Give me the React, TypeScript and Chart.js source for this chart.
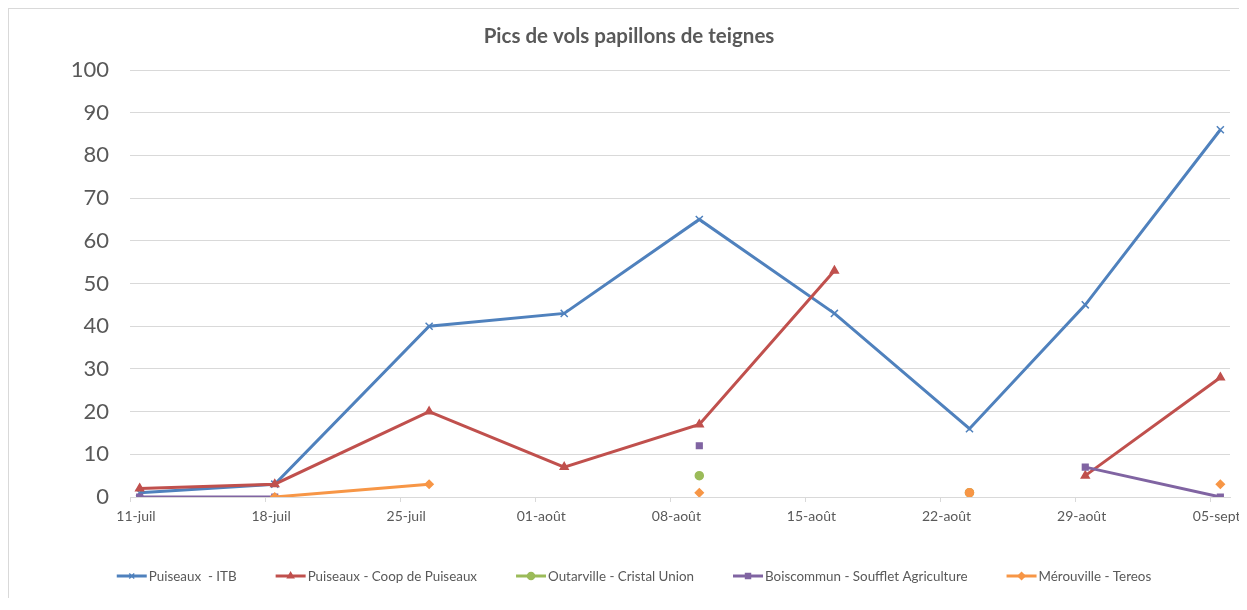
import React, { useEffect, useRef } from 'react';
import { Chart, registerables } from 'chart.js';
import { drawPoint } from 'chart.js/helpers';

Chart.register(...registerables);

const TITLE = 'Pics de vols papillons de teignes';

// Observation dates (day axis starts at 11 July)
const AXIS_START = '2019-07-11';
const AXIS_DAYS = 57;
const sampleDates = [
  '2019-07-11', '2019-07-18', '2019-07-26', '2019-08-02', '2019-08-09',
  '2019-08-16', '2019-08-23', '2019-08-29', '2019-09-05',
];

// Weekly axis labels
const tickLabels = [
  '11-juil', '18-juil', '25-juil', '01-août', '08-août',
  '15-août', '22-août', '29-août', '05-sept',
];

const seriesNames = [
  'Puiseaux  - ITB',
  'Puiseaux - Coop de Puiseaux',
  'Outarville - Cristal Union',
  'Boiscommun - Soufflet Agriculture',
  'Mérouville - Tereos',
];

const puiseauxItb = [1, 3, 40, 43, 65, 43, 16, 45, 86];
const puiseauxCoop = [2, 3, 20, 7, 17, 53, null, 5, 28];
const outarville = [null, null, null, null, 5, null, 1, null, null];
const boiscommun = [0, 0, null, null, 12, null, null, 7, 0];
const merouville = [null, 0, 3, null, 1, null, 1, null, 3];

const yTicksMax = 100;
const yStep = 10;

const TEXT = '#595959';
const GRID = '#d9d9d9';
const FONT = 'Lato, "Open Sans", sans-serif';

const dayOf = (d: string) => (Date.parse(d) - Date.parse(AXIS_START)) / 86400000;
const toPoints = (vals: (number | null)[]) =>
  sampleDates.map((d, i) => ({ x: dayOf(d) + 0.5, y: vals[i] }));

const titleLegendPlugin = {
  id: 'titleLegend',
  afterDraw(chart: any) {
    const ctx = chart.ctx;
    ctx.save();
    ctx.fillStyle = TEXT;
    ctx.font = `bold 20.5px ${FONT}`;
    ctx.textAlign = 'center';
    ctx.textBaseline = 'middle';
    ctx.fillText(TITLE, 620, 27);

    ctx.font = `13.4px ${FONT}`;
    const lineLen = 30;
    const textGap = 2;
    const itemGap = 39;
    const widths = chart.data.datasets.map((ds: any) => ctx.measureText(ds.label).width);
    const total = widths.reduce((a: number, w: number) => a + lineLen + textGap + w, 0) + itemGap * (widths.length - 1);
    let x = 625 - total / 2;
    const y = 567;
    chart.data.datasets.forEach((ds: any, i: number) => {
      ctx.strokeStyle = ds.borderColor;
      ctx.lineWidth = 3;
      ctx.beginPath();
      ctx.moveTo(x, y);
      ctx.lineTo(x + lineLen, y);
      ctx.stroke();
      const ps = Array.isArray(ds.pointStyle) ? ds.pointStyle[0] : ds.pointStyle;
      ctx.fillStyle = ds.pointBackgroundColor;
      ctx.strokeStyle = ds.pointBorderColor;
      ctx.lineWidth = ds.pointBorderWidth;
      drawPoint(ctx, { pointStyle: ps, rotation: 0, radius: 3.5, borderWidth: ds.pointBorderWidth }, x + lineLen / 2, y);
      ctx.fillStyle = TEXT;
      ctx.textAlign = 'left';
      ctx.fillText(ds.label, x + lineLen + textGap, y + 0.5);
      x += lineLen + textGap + widths[i] + itemGap;
    });
    ctx.restore();
  },
};

function makeDataset(label: string, vals: (number | null)[], color: string, style: any, radius: number, order: number) {
  return {
    label,
    data: toPoints(vals),
    borderColor: color,
    backgroundColor: color,
    pointBackgroundColor: color,
    pointBorderColor: color,
    pointBorderWidth: 1.5,
    borderWidth: 3,
    pointStyle: style,
    pointRadius: radius,
    tension: 0,
    spanGaps: false,
    order,
  };
}

export default function App() {
  const ref = useRef<HTMLCanvasElement>(null);
  useEffect(() => {
    if (!ref.current) return;
    const orangeStyles = merouville.map((_, i) => (sampleDates[i] === '2019-08-23' ? 'circle' : 'rectRot'));
    const chart = new Chart(ref.current, {
      type: 'line',
      data: {
        datasets: [
          makeDataset(seriesNames[0], puiseauxItb, '#4f81bd', 'crossRot', 5, 4),
          makeDataset(seriesNames[1], puiseauxCoop, '#c0504d', 'triangle', 4.5, 3),
          makeDataset(seriesNames[2], outarville, '#9bbb59', 'circle', 4, 2),
          makeDataset(seriesNames[3], boiscommun, '#8064a2', 'rect', 4, 1),
          makeDataset(seriesNames[4], merouville, '#f79646', orangeStyles, 4, 0),
        ] as any,
      },
      options: {
        animation: false,
        responsive: false,
        layout: { padding: { top: 61, right: 17, bottom: 61, left: 0 } },
        plugins: {
          legend: { display: false },
          title: { display: false },
          tooltip: { enabled: false },
        },
        scales: {
          x: {
            type: 'linear',
            min: 0,
            max: AXIS_DAYS,
            afterBuildTicks: (scale: any) => {
              scale.ticks = tickLabels.map((_, i) => ({ value: i * 7 }));
            },
            afterFit: (scale: any) => {
              scale.height = 40;
              scale.paddingLeft = 0;
              scale.paddingRight = 0;
            },
            grid: {
              drawOnChartArea: false,
              drawTicks: true,
              tickLength: 5,
              color: GRID,
            },
            border: { color: GRID, width: 1 },
            ticks: {
              autoSkip: false,
              maxRotation: 0,
              minRotation: 0,
              labelOffset: 6,
              padding: 6,
              color: TEXT,
              font: { family: FONT, size: 14 },
              callback: (_v: any, i: number) => tickLabels[i],
            },
          },
          y: {
            min: 0,
            max: yTicksMax,
            afterFit: (scale: any) => {
              scale.width = 121;
            },
            grid: { color: GRID, drawTicks: false },
            border: { display: false },
            ticks: {
              stepSize: yStep,
              padding: 21,
              color: TEXT,
              font: { family: FONT, size: 22 },
            },
          },
        },
      },
      plugins: [titleLegendPlugin],
    } as any);
    return () => chart.destroy();
  }, []);
  return (
    <div
      style={{
        position: 'relative',
        width: 1231,
        height: 590,
        borderLeft: '1px solid #d9d9d9',
        borderTop: '1px solid #d9d9d9',
        boxSizing: 'border-box',
        background: '#fff',
      }}
    >
      <canvas ref={ref} width={1238} height={589} style={{ position: 'absolute', left: 0, top: 0 }} />
    </div>
  );
}
